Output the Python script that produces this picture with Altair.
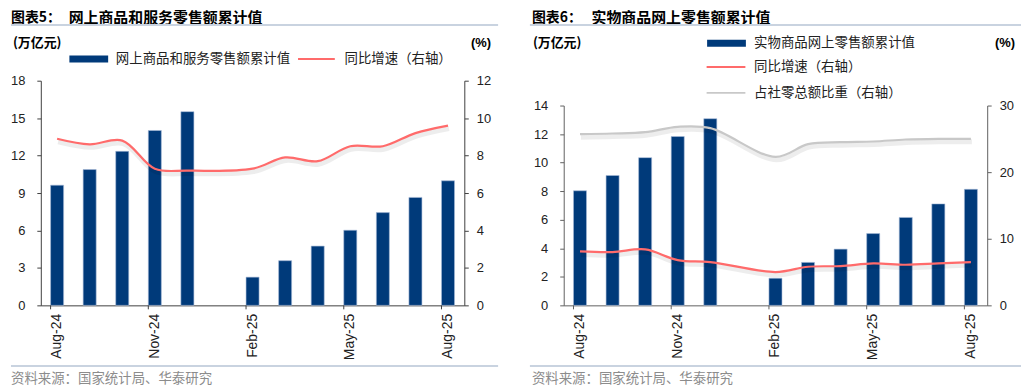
import altair as alt
import pandas as pd

# ---------------- data ----------------
months = ["Aug-24", "Sep-24", "Oct-24", "Nov-24", "Dec-24", "Jan-25", "Feb-25",
          "Mar-25", "Apr-25", "May-25", "Jun-25", "Jul-25", "Aug-25"]
tick_months = ["Aug-24", "Nov-24", "Feb-25", "May-25", "Aug-25"]

# chart 5: online goods & services retail sales, cumulative (trillion yuan) / YoY (%)
online_total = [9.63, 10.88, 12.34, 14.01, 15.52, None, 2.26, 3.58, 4.75, 6.02, 7.43, 8.65, 9.98]
online_yoy = [8.9, 8.6, 8.8, 7.3, 7.2, None, 7.3, 7.9, 7.7, 8.5, 8.5, 9.2, 9.6]

# chart 6: physical goods online retail sales, cumulative / YoY / share of total retail (%)
goods_total = [8.03, 9.10, 10.35, 11.83, 13.08, None, 1.90, 3.01, 3.94, 5.03, 6.16, 7.11, 8.13]
goods_yoy = [8.1, 8.0, 8.4, 6.8, 6.5, None, 5.0, 5.8, 5.9, 6.3, 6.1, 6.3, 6.5]
goods_share = [25.7, 25.8, 26.0, 26.8, 26.6, None, 22.3, 24.2, 24.5, 24.6, 24.9, 25.0, 25.0]

title5_prefix = "图表5："
title5 = "网上商品和服务零售额累计值"
title6_prefix = "图表6："
title6 = "实物商品网上零售额累计值"
bar5_name = "网上商品和服务零售额累计值"
bar6_name = "实物商品网上零售额累计值"
yoy_name = "同比增速（右轴）"
share_name = "占社零总额比重（右轴）"
left_unit = "(万亿元)"
right_unit = "(%)"
source = "资料来源：国家统计局、华泰研究"

left5_ticks = [0, 3, 6, 9, 12, 15, 18]
right5_ticks = [0, 2, 4, 6, 8, 10, 12]
left6_ticks = [0, 2, 4, 6, 8, 10, 12, 14]
right6_ticks = [0, 10, 20, 30]

# ---------------- style ----------------
NAVY = "#003A7A"
RED = "#FF6B6B"
GREY = "#C8C8C8"
LAT = "Liberation Sans"
CJK = "Noto Sans CJK SC"
W, H = 426, 226
U = 4  # half of sqrt(symbolSize=64)


def bar_path(w, h):
    a, b = w / 2 / U, h / 2 / U
    return f"M{-a},{-b}L{a},{-b}L{a},{b}L{-a},{b}Z"


def line_path(w):
    a = w / 2 / U
    return f"M{-a},0L{a},0"


def one(s):
    return pd.DataFrame({"t": [s]})


def txt(s, x, y, size, weight="normal", color="#000", align="left", font=CJK):
    return alt.Chart(one(s)).mark_text(
        align=align, baseline="middle", fontSize=size, fontWeight=weight,
        color=color, font=font
    ).encode(text="t:N", x=alt.value(x), y=alt.value(y))


def hrule(x1, x2, y, color="#C9D3E0", width=2):
    return alt.Chart(one("r")).mark_rule(color=color, strokeWidth=width).encode(
        x=alt.value(x1), x2=alt.value(x2), y=alt.value(y))


def xenc(axis_color, band=None):
    kw = {}
    if band is not None:
        kw["bandPosition"] = band
    return alt.X(
        "month:N", sort=months,
        scale=alt.Scale(domain=months, paddingInner=0.6, paddingOuter=0.3),
        axis=alt.Axis(title=None, values=tick_months, labelAngle=-90, ticks=False,
                      labelPadding=8, labelFont=LAT, labelFontSize=14, labelColor="#222",
                      domainColor=axis_color, domainWidth=1, grid=False),
        **kw)


def panel(bars, bar_name, lines, ldom, lvals, lrange, rdom, rvals, rrange,
          axis_color, hdr):
    bar_df = pd.DataFrame({"month": months, "value": bars, "series": bar_name})
    rows = []
    for name, vals in lines:
        for m, v in zip(months, vals):
            if v is not None:
                rows.append({"month": m, "value": v, "series": name})
    line_df = pd.DataFrame(rows)

    yl = alt.Y("value:Q",
               scale=alt.Scale(domain=ldom, range=lrange, nice=False, zero=True),
               axis=alt.Axis(title=None, orient="left", values=lvals, grid=False,
                             tickSize=4, labelPadding=12, domainColor=axis_color,
                             tickColor=axis_color, labelFont=LAT, labelFontSize=13,
                             labelColor="#222"))
    yr = alt.Y("value:Q",
               scale=alt.Scale(domain=rdom, range=rrange, nice=False, zero=True),
               axis=alt.Axis(title=None, orient="right", values=rvals, grid=False,
                             tickSize=4, labelPadding=8, domainColor=axis_color,
                             tickColor=axis_color, labelFont=LAT, labelFontSize=13,
                             labelColor="#222"))

    bar = alt.Chart(bar_df).mark_bar(stroke="#A9BCD8", strokeWidth=0.6).encode(
        x=xenc(axis_color), y=yl,
        color=alt.Color("series:N", scale=alt.Scale(domain=[bar_name], range=[NAVY]),
                        legend=alt.Legend(
                            title=None, orient="none", legendX=hdr["bar_lx"],
                            legendY=hdr["bar_ly"], symbolType=bar_path(39, 7),
                            symbolSize=64, symbolStrokeWidth=0, symbolOpacity=1,
                            labelOffset=hdr["bar_lo"], labelFont=CJK, labelFontSize=13.5,
                            labelColor="#222", labelLimit=400, padding=0)))

    names = [n for n, _ in lines]
    cols = hdr["line_colors"]
    shadow = alt.Chart(line_df).mark_line(
        color="#000", opacity=0.07, strokeWidth=5, interpolate="catmull-rom",
        yOffset=3, xOffset=1
    ).encode(x=xenc(axis_color), y=yr, detail="series:N")
    line = alt.Chart(line_df).mark_line(strokeWidth=2.2, interpolate="catmull-rom").encode(
        x=xenc(axis_color), y=yr,
        stroke=alt.Stroke("series:N", sort=names,
                          scale=alt.Scale(domain=names, range=cols),
                          legend=alt.Legend(
                              title=None, orient="none", legendX=hdr["line_lx"],
                              legendY=hdr["line_ly"], direction=hdr["line_dir"],
                              symbolType=line_path(hdr["line_w"]), symbolSize=64,
                              symbolStrokeWidth=2, rowPadding=11, columnPadding=10,
                              labelOffset=hdr["line_lo"], labelFont=CJK,
                              labelFontSize=13.5, labelColor="#222", labelLimit=400,
                              padding=0)))

    tick_df = pd.DataFrame({"month": tick_months})
    ticks = alt.Chart(tick_df).mark_rule(color=axis_color, strokeWidth=1).encode(
        x=xenc(axis_color, band=0), y=alt.value(H), y2=alt.value(H + 4))

    texts = [
        txt(hdr["prefix"], hdr["prefix_x"], -63, 14, "bold"),
        txt(hdr["title"], hdr["title_x"], -63, 15, "bold"),
        hrule(hdr["rule_x1"], hdr["rule_x2"], -56),
        txt(left_unit, hdr["lu_x"], -38, 13, "bold"),
        txt(right_unit, hdr["ru_x"], -38, 13, "bold", align="right", font=LAT),
        hrule(hdr["rule_x1"], hdr["rule_x2"], 287),
        txt(source, hdr["src_x"], 300, 13.5, color="#8C8C8C"),
    ]

    return alt.layer(bar, alt.layer(shadow, line), ticks, *texts).resolve_scale(
        y="independent").properties(width=W, height=H)


p5 = panel(
    online_total, bar5_name, [(yoy_name, online_yoy)],
    [0, 18], left5_ticks, [H, 0], [0, 12], right5_ticks, [H, 0], "#404040",
    dict(bar_lx=41.5, bar_ly=-28.5, bar_lo=20.5,
         line_lx=270.5, line_ly=-28.5, line_lo=21.5, line_w=37, line_dir="horizontal",
         line_colors=[RED],
         prefix=title5_prefix, prefix_x=-30, title=title5, title_x=28,
         rule_x1=-30, rule_x2=460, lu_x=-28, ru_x=453, src_x=-30))

p6 = panel(
    goods_total, bar6_name, [(yoy_name, goods_yoy), (share_name, goods_share)],
    [0, 14], left6_ticks, [H, 25], [0, 30], right6_ticks, [H, 25], "#606060",
    dict(bar_lx=157, bar_ly=-44.5, bar_lo=21,
         line_lx=156.5, line_ly=-20.5, line_lo=21.5, line_w=39, line_dir="vertical",
         line_colors=[RED, GREY],
         prefix=title6_prefix, prefix_x=-32, title=title6, title_x=28,
         rule_x1=-34, rule_x2=460, lu_x=-31, ru_x=454, src_x=-32))

chart = alt.hconcat(p5, p6, spacing=30).resolve_scale(
    color="independent", stroke="independent"
).properties(padding={"left": 2, "top": 2, "right": 0, "bottom": 0}).configure_view(stroke=None)

chart.save("out.html", embed_options={"renderer": "svg", "actions": False})
